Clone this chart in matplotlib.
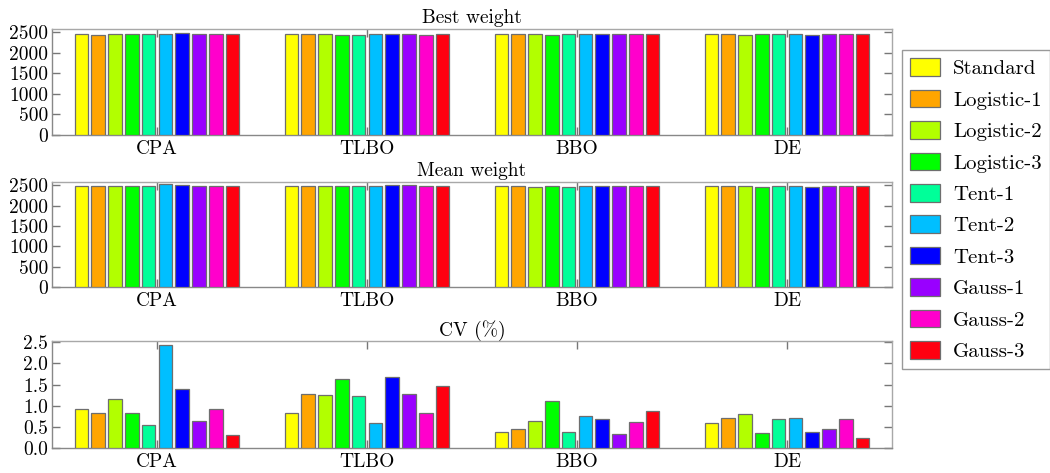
import numpy as np
import matplotlib
matplotlib.use("Agg")
import matplotlib.pyplot as plt
from matplotlib.patches import Patch
from matplotlib.ticker import FormatStrFormatter

plt.rcParams['font.family'] = ['cmr10', 'DejaVu Serif']
plt.rcParams['mathtext.fontset'] = 'cm'
plt.rcParams['axes.unicode_minus'] = False
plt.rcParams['axes.formatter.use_mathtext'] = True

algorithms = ["CPA", "TLBO", "BBO", "DE"]
variants = ["Standard", "Logistic-1", "Logistic-2", "Logistic-3", "Tent-1",
            "Tent-2", "Tent-3", "Gauss-1", "Gauss-2", "Gauss-3"]
colors = ["#FFFF00", "#FFA500", "#B2FF00", "#00FF00", "#00FF99",
          "#00BFFF", "#0000FF", "#9900FF", "#FF00CC", "#FF0010"]

# rows = algorithms, columns = variants
best_weight = [
    [2468, 2443, 2451, 2451, 2451, 2468, 2476, 2459, 2459, 2451],
    [2451, 2451, 2451, 2443, 2443, 2459, 2468, 2459, 2443, 2459],
    [2451, 2451, 2451, 2443, 2451, 2451, 2459, 2451, 2451, 2451],
    [2451, 2451, 2435, 2451, 2459, 2459, 2443, 2451, 2451, 2468],
]
mean_weight = [
    [2492, 2484, 2492, 2484, 2475, 2541, 2516, 2484, 2475, 2475],
    [2492, 2492, 2492, 2492, 2475, 2492, 2500, 2500, 2484, 2492],
    [2484, 2475, 2467, 2475, 2467, 2475, 2492, 2475, 2475, 2484],
    [2484, 2484, 2475, 2467, 2492, 2492, 2467, 2475, 2484, 2484],
]
cv = [
    [0.915, 0.82, 1.16, 0.82, 0.55, 2.43, 1.40, 0.64, 0.915, 0.31],
    [0.82, 1.27, 1.26, 1.62, 1.23, 0.60, 1.67, 1.28, 0.82, 1.46],
    [0.37, 0.45, 0.64, 1.10, 0.39, 0.76, 0.69, 0.33, 0.61, 0.87],
    [0.59, 0.71, 0.81, 0.35, 0.69, 0.70, 0.37, 0.45, 0.68, 0.24],
]

W, H = 1050, 473
fig = plt.figure(figsize=(W / 100, H / 100), dpi=100)

panels = [
    ("Best weight", best_weight, (29, 135), (0, 2580), [0, 500, 1000, 1500, 2000, 2500], "%d"),
    ("Mean weight", mean_weight, (182, 287), (0, 2580), [0, 500, 1000, 1500, 2000, 2500], "%d"),
    ("CV (%)", cv, (341, 448), (0, 2.53), [0, 0.5, 1.0, 1.5, 2.0, 2.5], "%.1f"),
]

x = np.arange(len(algorithms))
pitch = 0.08
bw = 0.064

for title, data, (top, bot), ylim, yt, fmt in panels:
    ax = fig.add_axes([52 / W, 1 - bot / H, 840 / W, (bot - top) / H])
    data = np.array(data)
    for j, v in enumerate(variants):
        ax.bar(x + (j - 4.5) * pitch, data[:, j], width=bw, color=colors[j],
               edgecolor="#6e6e6e", linewidth=0.9, label=v, zorder=3)
    ax.set_xlim(-0.5, 3.5)
    ax.set_ylim(*ylim)
    ax.set_xticks(x)
    ax.set_xticklabels(algorithms)
    ax.set_yticks(yt)
    ax.yaxis.set_major_formatter(FormatStrFormatter(fmt))
    ax.tick_params(direction="in", length=6, width=1, color="#777777",
                   top=True, right=True, labelsize=14, pad=3)
    ax.tick_params(axis="x", pad=4)
    for side, s in ax.spines.items():
        s.set_color("#888888" if side in ("left", "bottom") else "#a8a8a8")
        s.set_linewidth(1.0)
    ax.set_title(title, fontsize=14, pad=4)

handles = [Patch(facecolor=c, edgecolor="#6e6e6e", linewidth=0.9) for c in colors]
leg = fig.legend(handles, variants, loc="upper left",
                 bbox_to_anchor=(902 / W, 1 - 50 / H), fontsize=15,
                 handlelength=1.44, handleheight=0.92, labelspacing=0.55,
                 handletextpad=0.62, borderpad=0.4, borderaxespad=0,
                 fancybox=False, framealpha=1)
leg.get_frame().set_edgecolor("#999999")
leg.get_frame().set_linewidth(1.0)

fig.savefig("out.png", dpi=100)
